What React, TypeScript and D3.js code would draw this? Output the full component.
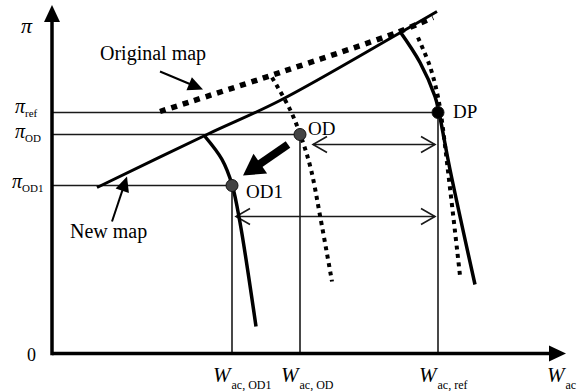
import React, { useEffect, useRef } from "react";
import * as d3 from "d3";

// map lines (W_ac, pi) in chart units
const newMap = [[0.9, 3.32], [3.1, 4.38], [4.56, 5.06], [6.9, 6.38], [7.7, 6.84]];
const originalMap = [[2.16, 4.84], [4.56, 5.62], [6.9, 6.42], [7.62, 6.72]];

// speed lines
const newSpeedDP = [[6.96, 6.44], [7.36, 5.82], [7.66, 5.14], [7.74, 4.82], [7.96, 3.68], [8.46, 1.38]];
const origSpeedDP = [[7.32, 6.32], [7.56, 5.74], [7.7, 5.22], [7.78, 4.78], [7.94, 3.48], [8.16, 1.56]];
const origSpeedOD = [[4.4, 5.52], [4.76, 4.88], [5.0, 4.28], [5.18, 3.68], [5.36, 2.76], [5.6, 1.44]];
const newSpeedOD1 = [[3.06, 4.34], [3.4, 3.88], [3.6, 3.38], [3.76, 2.62], [4.08, 0.54]];

const pointNames = ["DP", "OD", "OD1"];
const pointW = [7.72, 4.96, 3.6];
const pointPi = [4.82, 4.38, 3.36];
const pointFill = ["#000", "#444", "#444"];

const piSubs = ["ref", "OD", "OD1"];
const wSubs = ["ac, OD1", "ac, OD", "ac, ref", "ac"];
const wTicks = [3.6, 4.96, 7.72, 10.28];

// double arrows: [x1, x2, y]
const spans = [[5.22, 7.66, 4.18], [3.68, 7.66, 2.74]];

// annotation arrows: [x1, y1, x2, y2]
const bigArrow = [4.72, 4.18, 3.82, 3.56];
const origMapArrow = [2.16, 5.64, 3.02, 5.28];
const newMapArrow = [1.2, 2.64, 1.5, 3.54];

const FONT = "Liberation Serif, Times New Roman, serif";

const App = () => {
  const ref = useRef(null);

  useEffect(() => {
    const svg = d3.select(ref.current);
    svg.selectAll("*").remove();

    const x = d3.scaleLinear().domain([0, 10]).range([52, 552]);
    const y = d3.scaleLinear().domain([0, 7]).range([353.5, 3.5]);

    const line = d3
      .line()
      .x((d) => x(d[0]))
      .y((d) => y(d[1]))
      .curve(d3.curveCatmullRom.alpha(0.5));

    // reference lines to the axes
    pointNames.forEach((n, i) => {
      svg.append("line")
        .attr("x1", x(0)).attr("x2", x(pointW[i]))
        .attr("y1", y(pointPi[i])).attr("y2", y(pointPi[i]))
        .attr("stroke", "#1a1a1a").attr("stroke-width", 1.6);
      svg.append("line")
        .attr("x1", x(pointW[i])).attr("x2", x(pointW[i]))
        .attr("y1", y(pointPi[i])).attr("y2", y(0))
        .attr("stroke", "#1a1a1a").attr("stroke-width", 1.6);
    });

    // double-headed span arrows
    spans.forEach(([a, b, v]) => {
      const x1 = x(a), x2 = x(b), yy = y(v);
      svg.append("line").attr("x1", x1).attr("x2", x2).attr("y1", yy).attr("y2", yy)
        .attr("stroke", "#1a1a1a").attr("stroke-width", 1.6);
      svg.append("path")
        .attr("d", `M${x1 + 14},${yy - 8}L${x1},${yy}L${x1 + 14},${yy + 8}M${x2 - 14},${yy - 8}L${x2},${yy}L${x2 - 14},${yy + 8}`)
        .attr("fill", "none").attr("stroke", "#1a1a1a").attr("stroke-width", 1.6);
    });

    // dotted (original) lines
    svg.append("path").attr("d", line(originalMap))
      .attr("fill", "none").attr("stroke", "#000").attr("stroke-width", 5.5)
      .attr("stroke-dasharray", "6,6");
    [origSpeedDP, origSpeedOD].forEach((s) => {
      svg.append("path").attr("d", line(s))
        .attr("fill", "none").attr("stroke", "#000").attr("stroke-width", 4)
        .attr("stroke-dasharray", "4,4.5");
    });

    // solid (new) lines
    svg.append("path").attr("d", line(newMap))
      .attr("fill", "none").attr("stroke", "#000").attr("stroke-width", 3);
    [newSpeedDP, newSpeedOD1].forEach((s) => {
      svg.append("path").attr("d", line(s))
        .attr("fill", "none").attr("stroke", "#000").attr("stroke-width", 3.5);
    });

    // operating points
    pointNames.forEach((n, i) => {
      svg.append("circle")
        .attr("cx", x(pointW[i])).attr("cy", y(pointPi[i])).attr("r", 6)
        .attr("fill", pointFill[i]).attr("stroke", "#111").attr("stroke-width", 1);
    });
    const labelOff = [[15, 5], [8, 0], [14, 12]];
    pointNames.forEach((n, i) => {
      svg.append("text")
        .attr("x", x(pointW[i]) + labelOff[i][0]).attr("y", y(pointPi[i]) + labelOff[i][1])
        .style("font-family", FONT).attr("font-size", 19).text(n);
    });

    // arrows
    const arrow = (a, shaftW, headL, headW) => {
      const x1 = x(a[0]), y1 = y(a[1]), x2 = x(a[2]), y2 = y(a[3]);
      const len = Math.hypot(x2 - x1, y2 - y1);
      const ux = (x2 - x1) / len, uy = (y2 - y1) / len;
      const nx = -uy, ny = ux;
      const bx = x2 - ux * headL, by = y2 - uy * headL;
      svg.append("line").attr("x1", x1).attr("y1", y1).attr("x2", bx + ux * 2).attr("y2", by + uy * 2)
        .attr("stroke", "#000").attr("stroke-width", shaftW);
      svg.append("path")
        .attr("d", `M${x2},${y2}L${bx + nx * headW},${by + ny * headW}L${bx - nx * headW},${by - ny * headW}Z`)
        .attr("fill", "#000");
    };
    arrow(bigArrow, 8, 21, 12);
    arrow(origMapArrow, 2, 15, 7);
    arrow(newMapArrow, 2, 15, 7);

    svg.append("text").attr("x", 100).attr("y", 60)
      .style("font-family", FONT).attr("font-size", 20).text("Original map");
    svg.append("text").attr("x", 70).attr("y", 238)
      .style("font-family", FONT).attr("font-size", 20).text("New map");

    // axes
    const x0 = x(0), y0 = y(0), xEnd = x(10.28), yEnd = y(6.97);
    svg.append("line").attr("x1", x0).attr("x2", xEnd - 14).attr("y1", y0).attr("y2", y0)
      .attr("stroke", "#000").attr("stroke-width", 3.5);
    svg.append("path").attr("d", `M${xEnd},${y0}L${xEnd - 17},${y0 - 8}L${xEnd - 17},${y0 + 8}Z`).attr("fill", "#000");
    svg.append("line").attr("x1", x0).attr("x2", x0).attr("y1", y0 + 1.75).attr("y2", yEnd + 14)
      .attr("stroke", "#000").attr("stroke-width", 3.5);
    svg.append("path").attr("d", `M${x0},${yEnd}L${x0 - 8},${yEnd + 17}L${x0 + 8},${yEnd + 17}Z`).attr("fill", "#000");

    // axis labels
    svg.append("text").attr("x", 21).attr("y", 33)
      .style("font-family", FONT).attr("font-size", 22).attr("font-style", "italic").text("π");
    svg.append("text").attr("x", 27).attr("y", 361)
      .style("font-family", FONT).attr("font-size", 18).text("0");

    const piDy = [0, 3, 2];
    piSubs.forEach((s, i) => {
      const t = svg.append("text").attr("x", i === 2 ? 12 : 15).attr("y", y(pointPi[i]) + piDy[i])
        .style("font-family", FONT);
      t.append("tspan").attr("font-size", 20).attr("font-style", "italic").text("π");
      t.append("tspan").attr("font-size", 11).attr("dy", 4).text(s);
    });

    wSubs.forEach((s, i) => {
      const t = svg.append("text").attr("x", x(wTicks[i]) - 19).attr("y", 382)
        .style("font-family", FONT);
      t.append("tspan").attr("font-size", 21).attr("font-style", "italic").text("W");
      t.append("tspan").attr("font-size", 12).attr("dx", 1).attr("dy", 7).text(s);
    });
  }, []);

  return (
    <svg
      ref={ref}
      width={585}
      height={391}
      style={{ position: "absolute", left: 0, top: 0, background: "#fff" }}
    />
  );
};

export default App;
